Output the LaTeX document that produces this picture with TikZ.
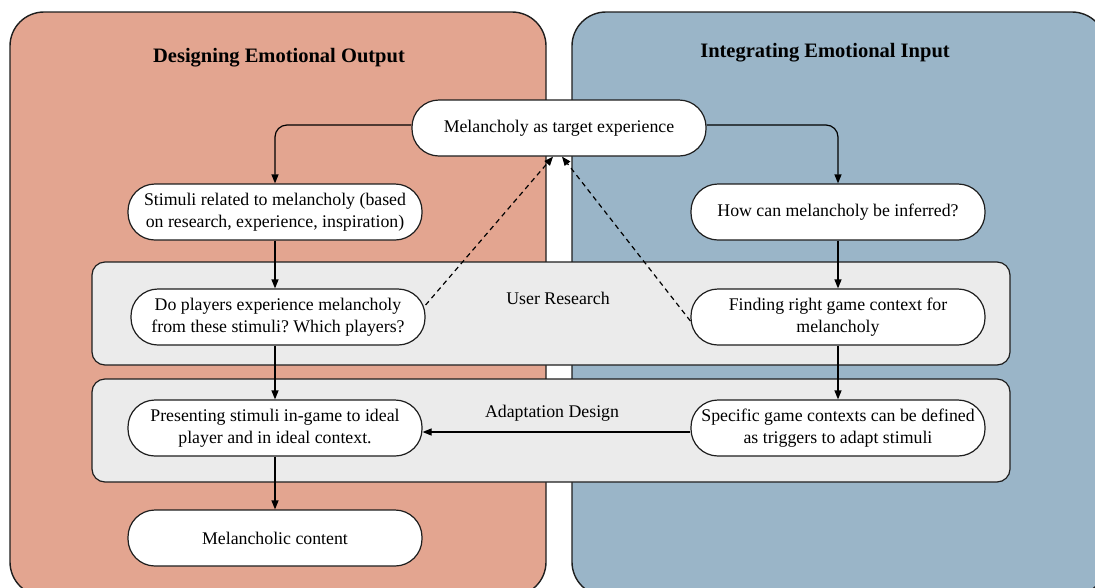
\documentclass[tikz,border=0pt]{standalone}
\usepackage{fontspec}
\setmainfont{Liberation Serif}
\usetikzlibrary{arrows.meta}
\frenchspacing
\definecolor{outputpanel}{RGB}{227,165,144}
\definecolor{inputpanel}{RGB}{154,181,200}
\definecolor{bandgray}{RGB}{235,235,235}
\definecolor{edgegray}{RGB}{30,30,30}
\tikzset{
  panel/.style={draw=edgegray, line width=1.4pt, rounded corners=34pt},
  band/.style={draw=edgegray, fill=bandgray, line width=1.2pt, rounded corners=13pt},
  stepbox/.style={draw=edgegray, fill=white, line width=1.2pt, rounded corners=27pt,
    minimum width=294pt, minimum height=56pt, align=center, inner sep=2pt,
    font=\fontsize{17.8}{22}\selectfont},
  title/.style={font=\fontsize{20.5}{22}\selectfont\bfseries},
  bandlabel/.style={font=\fontsize{17.8}{22}\selectfont},
  flow/.style={draw=black, line width=1.2pt, rounded corners=12pt,
    -{Triangle[length=9pt,width=7pt]}},
  hint/.style={draw=black, line width=1.2pt, dashed, dash pattern=on 5pt off 4pt,
    -{Triangle[length=9pt,width=7pt]}}
}
\begin{document}
\begin{tikzpicture}[x=1pt,y=-1pt]
  \useasboundingbox (0,0) rectangle (1095,587);
  \begin{scope}
    \clip (0,0) rectangle (1095,587);
    % two halves of the process
    \path[panel, fill=outputpanel] (10,12) rectangle (546,596);
    \path[panel, fill=inputpanel] (572,12) rectangle (1106,596);
    % phase bands across both halves
    \path[band] (92,262) rectangle (1010,365);
    \path[band] (92,379) rectangle (1010,482);
  \end{scope}

  \node[title] (tout) at (279,58) {Designing Emotional Output};
  \node[title] (tin) at (825,53) {Integrating Emotional Input};
  \node[bandlabel] (lres) at (558,298) {User Research};
  \node[bandlabel] (ladp) at (552,413) {Adaptation Design};

  \node[stepbox] (target) at (559,128) {Melancholy as target experience};
  \node[stepbox] (stim) at (275,212) {Stimuli related to melancholy (based\\on research, experience, inspiration)};
  \node[stepbox] (infer) at (838,212) {How can melancholy be inferred?};
  \node[stepbox] (players) at (278,317) {Do players experience melancholy\\from these stimuli? Which players?};
  \node[stepbox] (context) at (838,317) {Finding right game context for\\melancholy};
  \node[stepbox] (present) at (275,428) {Presenting stimuli in-game to ideal\\player and in ideal context.};
  \node[stepbox] (trigger) at (838,428) {Specific game contexts can be defined\\as triggers to adapt stimuli};
  \node[stepbox] (content) at (275,538) {Melancholic content};

  % main flow
  \draw[flow] ([yshift=3pt]target.west) -| (stim.north);
  \draw[flow] ([yshift=3pt]target.east) -| (infer.north);
  \draw[flow] (stim.south) -- (stim.south |- players.north);
  \draw[flow] (players.south -| stim.south) -- (present.north);
  \draw[flow] (present.south) -- (content.north);
  \draw[flow] (infer.south) -- (context.north);
  \draw[flow] (context.south) -- (trigger.north);
  \draw[flow] ([yshift=-4pt]trigger.west) -- ([yshift=-4pt]present.east);

  % feedback to the target experience
  \draw[hint] (players.east) ++(0,-12) -- ([xshift=-6pt]target.south);
  \draw[hint] (context.west) ++(0,4) -- ([xshift=3pt]target.south);
\end{tikzpicture}
\end{document}
